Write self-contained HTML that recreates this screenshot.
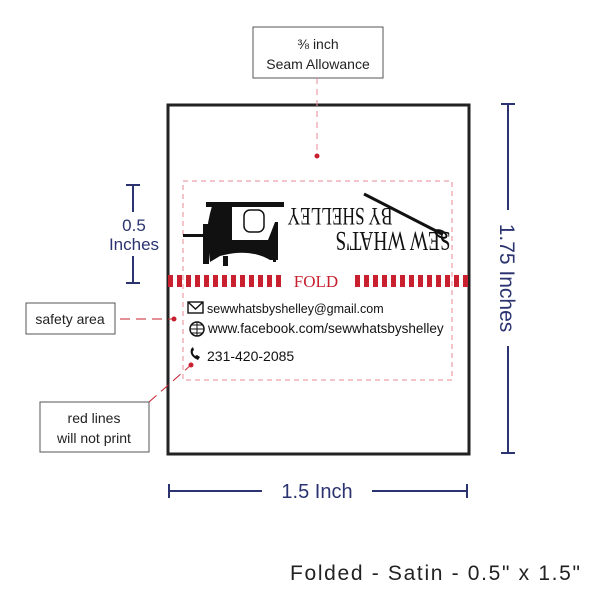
<!DOCTYPE html>
<html><head><style>
html,body{margin:0;padding:0;background:#fff;}
svg{display:block;}
text{font-family:"Liberation Sans",sans-serif;}
</style></head><body>
<svg width="600" height="600" viewBox="0 0 600 600" xmlns="http://www.w3.org/2000/svg">
<rect x="168" y="105" width="301" height="349" fill="#fff" stroke="#222" stroke-width="3"/>
<line x1="168" y1="281" x2="282" y2="281" stroke="#c8202f" stroke-width="12" stroke-dasharray="5 4"/>
<line x1="355" y1="281" x2="469" y2="281" stroke="#c8202f" stroke-width="12" stroke-dasharray="5 4"/>
<text x="316" y="287" font-size="17" fill="#c8202f" text-anchor="middle" style="font-family:'Liberation Serif',serif">FOLD</text>
<rect x="183" y="181" width="269" height="199" fill="none" stroke="#e88a95" stroke-width="1" stroke-dasharray="5 4"/>
<!-- upside-down logo text -->
<text font-size="25" fill="#111" text-anchor="middle" textLength="105" lengthAdjust="spacingAndGlyphs" style="font-family:'Liberation Serif',serif" transform="translate(340 208) rotate(180)">BY SHELLEY</text>
<text font-size="27" fill="#111" text-anchor="middle" textLength="115" lengthAdjust="spacingAndGlyphs" style="font-family:'Liberation Serif',serif" transform="translate(393 232) rotate(180)">SEW WHAT'S</text>
<line x1="364" y1="194" x2="442" y2="234" stroke="#111" stroke-width="3"/>
<ellipse cx="441" cy="234" rx="6" ry="3" fill="none" stroke="#111" stroke-width="2" transform="rotate(27 441 234)"/>
<!-- sewing machine -->
<g fill="#111">
<rect x="206" y="202" width="78" height="5"/>
<path d="M212 206 L232 206 L232 240 L268 240 Q272 230 275 222 L278 222 L278 260 L270 260 Q250 248 220 256 L210 262 L208 244 Q205 230 212 206Z"/>
<rect x="203" y="224" width="6" height="40"/>
<rect x="183" y="234" width="20" height="3"/>
<rect x="273" y="240" width="3" height="22"/>
<rect x="223" y="256" width="5" height="10"/>
</g>
<rect x="244" y="210" width="20" height="22" rx="6" fill="none" stroke="#111" stroke-width="1.5"/>
<!-- contact -->
<rect x="188" y="302" width="15" height="11" fill="none" stroke="#111" stroke-width="1.4"/>
<path d="M188 302 L195.5 309 L203 302" fill="none" stroke="#111" stroke-width="1.4"/>
<text x="207" y="313" font-size="12.5" fill="#111">sewwhatsbyshelley@gmail.com</text>
<circle cx="197" cy="329" r="7" fill="none" stroke="#111" stroke-width="1.5"/>
<path d="M190 329 H204 M197 322 V336 M192 325 H202 M192 333 H202" stroke="#111" stroke-width="1"/>
<text x="208" y="333" font-size="13.5" fill="#111">www.facebook.com/sewwhatsbyshelley</text>
<path d="M191 349 Q189 356 198 360 L200 357 L197 355 L195 356 Q192 353 193 351 L194 350 L193 347 Z" fill="#111"/>
<text x="207" y="361" font-size="14" fill="#111">231-420-2085</text>
<!-- callouts -->
<rect x="253" y="27" width="130" height="51" fill="#fff" stroke="#555" stroke-width="1"/>
<text x="318" y="49" font-size="14" fill="#222" text-anchor="middle">⅜ inch</text>
<text x="318" y="69" font-size="14" fill="#222" text-anchor="middle">Seam Allowance</text>
<line x1="317" y1="78" x2="317" y2="155" stroke="#e88a95" stroke-width="1" stroke-dasharray="6 5"/>
<circle cx="317" cy="156" r="2.5" fill="#c8202f"/>
<rect x="26" y="303" width="89" height="31" fill="#fff" stroke="#555" stroke-width="1"/>
<text x="70" y="324" font-size="14" fill="#222" text-anchor="middle">safety area</text>
<line x1="120" y1="319" x2="174" y2="319" stroke="#c8202f" stroke-width="1" stroke-dasharray="10 6"/>
<circle cx="174" cy="319" r="2.5" fill="#c8202f"/>
<rect x="40" y="402" width="109" height="50" fill="#fff" stroke="#555" stroke-width="1"/>
<text x="94" y="423" font-size="14" fill="#222" text-anchor="middle">red lines</text>
<text x="94" y="443" font-size="14" fill="#222" text-anchor="middle">will not print</text>
<line x1="149" y1="402" x2="191" y2="365" stroke="#c8202f" stroke-width="1" stroke-dasharray="10 6"/>
<circle cx="191" cy="365" r="2.5" fill="#c8202f"/>
<!-- dimensions -->
<g stroke="#2b3470" stroke-width="2" fill="none">
<line x1="126" y1="185" x2="140" y2="185"/><line x1="133" y1="185" x2="133" y2="212"/>
<line x1="133" y1="256" x2="133" y2="283"/><line x1="126" y1="283" x2="140" y2="283"/>
<line x1="501" y1="104" x2="515" y2="104"/><line x1="508" y1="104" x2="508" y2="210"/>
<line x1="508" y1="346" x2="508" y2="453"/><line x1="501" y1="453" x2="515" y2="453"/>
<line x1="169" y1="484" x2="169" y2="498"/><line x1="169" y1="491" x2="262" y2="491"/>
<line x1="372" y1="491" x2="467" y2="491"/><line x1="467" y1="484" x2="467" y2="498"/>
</g>
<text x="134" y="231" font-size="17" fill="#2b3470" text-anchor="middle">0.5</text>
<text x="134" y="250" font-size="17" fill="#2b3470" text-anchor="middle">Inches</text>
<text x="0" y="0" font-size="21" fill="#2b3470" text-anchor="middle" transform="translate(500 278) rotate(90)">1.75 Inches</text>
<text x="317" y="498" font-size="20" fill="#2b3470" text-anchor="middle">1.5 Inch</text>
<text x="580" y="580" font-size="21" fill="#222" text-anchor="end" textLength="290" lengthAdjust="spacing">Folded - Satin - 0.5" x 1.5"</text>
</svg>
</body></html>
